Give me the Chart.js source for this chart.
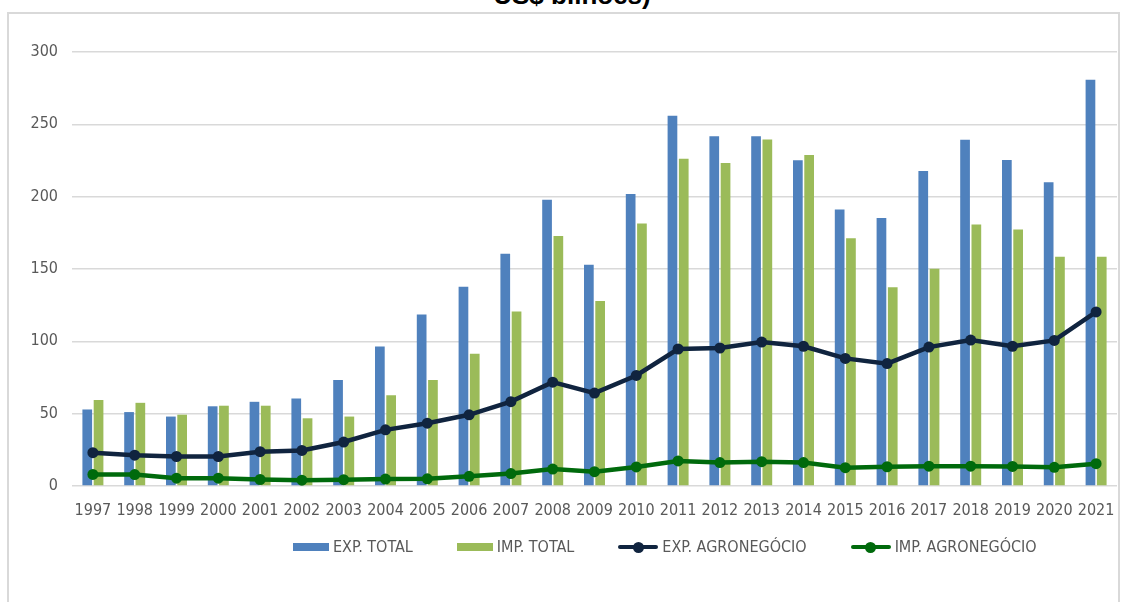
<!DOCTYPE html>
<html lang="pt">
<head>
<meta charset="utf-8">
<script src="https://cdn.jsdelivr.net/npm/chart.js@4"></script>
<style>
  html, body { margin: 0; padding: 0; background: #fff; }
  body { width: 1123px; height: 602px; position: relative; overflow: hidden; font-family: "Liberation Sans Narrow", "DejaVu Sans Condensed", Arial, sans-serif; }
  #frame { position: absolute; left: 7px; top: 12px; width: 1109px; height: 640px; border: 2px solid #d9d9d9; }
  #title { position: absolute; top: -18px; left: 0; width: 1144px; text-align: center; font: bold 26px/26px "Liberation Sans", Arial, sans-serif; color: #000; }
  #wrap { position: absolute; left: 0; top: 0; width: 1123px; height: 602px; }
  #legend { position: absolute; left: 293px; top: 537px; display: flex; gap: 44px; color: #595959; font-size: 16px; }
  .item { display: flex; align-items: center; gap: 4px; }
  .sw { position: relative; height: 16px; }
</style>
</head>
<body>
<div id="frame"></div>
<div id="title">US$ bilhões)</div>
<div id="wrap"><canvas id="grafico"></canvas></div>
<div id="legend"></div>
<script>
// Anos (eixo x)
const anos = ['1997','1998','1999','2000','2001','2002','2003','2004','2005','2006','2007','2008','2009','2010','2011','2012','2013','2014','2015','2016','2017','2018','2019','2020','2021'];

// Valores em US$ bilhões
const expTotal = [52.9, 51.1, 48.0, 55.1, 58.2, 60.4, 73.2, 96.5, 118.5, 137.8, 160.6, 197.9, 153.0, 201.9, 256.0, 241.8, 241.8, 225.1, 191.1, 185.2, 217.7, 239.3, 225.4, 209.9, 280.8];
const impTotal = [59.5, 57.5, 49.3, 55.5, 55.5, 46.8, 48.0, 62.8, 73.3, 91.4, 120.6, 172.8, 127.9, 181.5, 226.2, 223.3, 239.6, 228.8, 171.3, 137.4, 150.2, 180.8, 177.3, 158.4, 158.4];
const expAgro = [23.0, 21.3, 20.4, 20.4, 23.7, 24.6, 30.4, 38.8, 43.4, 49.2, 58.3, 71.8, 64.2, 76.4, 94.7, 95.4, 99.5, 96.6, 88.2, 84.6, 96.0, 100.9, 96.6, 100.6, 120.3];
const impAgro = [8.0, 7.9, 5.4, 5.4, 4.5, 4.0, 4.4, 4.8, 5.0, 6.7, 8.6, 11.7, 9.9, 13.2, 17.3, 16.2, 16.8, 16.2, 12.7, 13.3, 13.7, 13.7, 13.5, 12.9, 15.4];

// Ticks do eixo y
const ticksY = [0, 50, 100, 150, 200, 250, 300];

const cores = {
    expTotal: '#4f81bd',
    impTotal: '#9bbb59',
    expAgro: '#10243f',
    impAgro: '#006a0c'
};

const fonte = { family: '"Liberation Sans Narrow", "DejaVu Sans Condensed", Arial, sans-serif', size: 16 };

const dados = {
    labels: anos,
    datasets: [
        {
            type: 'line', label: 'EXP. AGRONEGÓCIO', data: expAgro, order: 0,
            borderColor: cores.expAgro, backgroundColor: cores.expAgro,
            borderWidth: 4.5, pointRadius: 5.5, pointBorderWidth: 0, tension: 0
        },
        {
            type: 'line', label: 'IMP. AGRONEGÓCIO', data: impAgro, order: 0,
            borderColor: cores.impAgro, backgroundColor: cores.impAgro,
            borderWidth: 4.5, pointRadius: 5.5, pointBorderWidth: 0, tension: 0
        },
        {
            type: 'bar', label: 'EXP. TOTAL', data: expTotal, order: 1,
            backgroundColor: cores.expTotal, categoryPercentage: 0.54, barPercentage: 0.86
        },
        {
            type: 'bar', label: 'IMP. TOTAL', data: impTotal, order: 1,
            backgroundColor: cores.impTotal, categoryPercentage: 0.54, barPercentage: 0.86
        }
    ]
};

const config = {
    data: dados,
    options: {
        responsive: true,
        maintainAspectRatio: false,
        animation: false,
        layout: { padding: { top: 52, right: 6, bottom: 76, left: 0 } },
        scales: {
            x: {
                // marcas invisíveis só para afastar os rótulos do eixo
                grid: { display: true, drawOnChartArea: false, drawTicks: true, tickLength: 13, tickColor: 'rgba(0,0,0,0)' },
                border: { display: false },
                ticks: { color: '#595959', font: fonte, padding: 2, maxRotation: 0, autoSkip: false },
                afterFit: (s) => { s.height = 40; }
            },
            y: {
                min: 0, max: 300,
                afterBuildTicks: (s) => { s.ticks = ticksY.map(v => ({ value: v })); },
                grid: { color: '#d9d9d9', lineWidth: 1.5, drawTicks: false },
                border: { display: false },
                ticks: { color: '#595959', font: fonte, padding: 14 },
                afterFit: (s) => { s.width = 72; }
            }
        },
        plugins: {
            legend: { display: false },
            tooltip: { enabled: false }
        }
    }
};

const grafico = new Chart(document.getElementById('grafico'), config);

// Legenda montada a partir dos datasets (ordem do original)
const legenda = document.getElementById('legend');
['EXP. TOTAL', 'IMP. TOTAL', 'EXP. AGRONEGÓCIO', 'IMP. AGRONEGÓCIO'].forEach(nome => {
    const ds = grafico.data.datasets.find(d => d.label === nome);
    const item = document.createElement('div');
    item.className = 'item';
    const sw = document.createElement('span');
    sw.className = 'sw';
    if (ds.type === 'bar') {
        sw.style.width = '36px';
        sw.innerHTML = '<span style="position:absolute;left:0;top:4px;width:36px;height:8px;background:' + ds.backgroundColor + '"></span>';
    } else {
        sw.style.width = '40px';
        sw.innerHTML = '<span style="position:absolute;left:0;top:6px;width:40px;height:4.5px;border-radius:2px;background:' + ds.borderColor + '"></span>' +
            '<span style="position:absolute;left:14.5px;top:3px;width:11px;height:11px;border-radius:50%;background:' + ds.borderColor + '"></span>';
    }
    const txt = document.createElement('span');
    txt.textContent = nome;
    item.appendChild(sw);
    item.appendChild(txt);
    legenda.appendChild(item);
});
</script>
</body>
</html>
